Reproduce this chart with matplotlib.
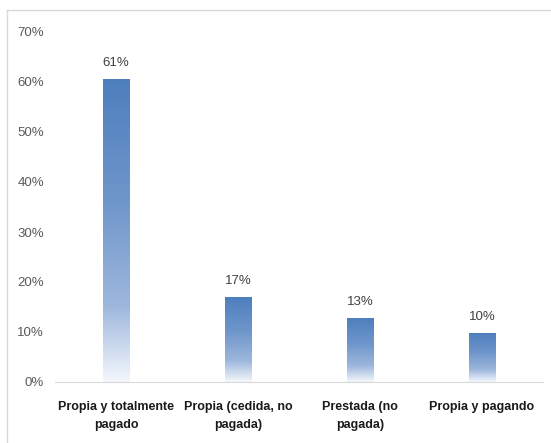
import matplotlib.pyplot as plt
import numpy as np
from matplotlib import colors
from matplotlib.lines import Line2D

## DATA

categories = ['Propia y totalmente\npagado', 'Propia (cedida, no\npagada)',
              'Prestada (no\npagada)', 'Propia y pagando']
values = [60.6, 16.9, 12.7, 9.7]
labels = ['61%', '17%', '13%', '10%']
yticks = [0, 10, 20, 30, 40, 50, 60, 70]

## STYLE

plt.rcParams['font.family'] = ['Liberation Sans', 'DejaVu Sans']

# excel style gradient, dark on top fading to white at the base
grad = colors.LinearSegmentedColormap.from_list(
    'xl', [(0.0, '#f4f7fc'), (0.25, '#9db7dc'), (0.6, '#6f96cb'), (1.0, '#4e7fbd')])

fig = plt.figure(figsize=(5.51, 4.43), dpi=100)
ax = fig.add_axes([55/551, 1 - 382/443, 488/551, 350/443])

x = np.arange(len(categories))
bars = ax.bar(x, values, width=0.215, color='none', edgecolor='none')

g = np.linspace(0, 1, 256).reshape(-1, 1)
for b in bars:
    bx, bw, bh = b.get_x(), b.get_width(), b.get_height()
    ax.imshow(g, cmap=grad, origin='lower', aspect='auto',
              extent=(bx, bx + bw, 0, bh), zorder=2)

for xi, v, lab in zip(x, values, labels):
    ax.text(xi, v + 2.1, lab, ha='center', va='bottom', fontsize=9.5, color='#404040')

ax.set_xlim(-0.5, len(categories) - 0.5)
ax.set_ylim(0, 70)
ax.set_yticks(yticks)
ax.set_yticklabels([f'{t}%' for t in yticks], color='#595959', fontsize=9.5)
ax.set_xticks(x)
ax.set_xticklabels(categories, fontsize=9, fontweight='bold', color='#1a1a1a',
                   linespacing=1.6)
ax.tick_params(axis='both', length=0)
ax.tick_params(axis='y', pad=8)
ax.tick_params(axis='x', pad=14)
for s in ['top', 'right', 'left']:
    ax.spines[s].set_visible(False)
ax.spines['bottom'].set_color('#d9d9d9')

# chart border (top and left only visible)
fig.add_artist(Line2D([7/551, 7/551], [0, 1 - 10/443], transform=fig.transFigure,
                      color='#d9d9d9', lw=1))
fig.add_artist(Line2D([7/551, 1], [1 - 10/443, 1 - 10/443], transform=fig.transFigure,
                      color='#d9d9d9', lw=1))

fig.savefig('out.png', dpi=100)
